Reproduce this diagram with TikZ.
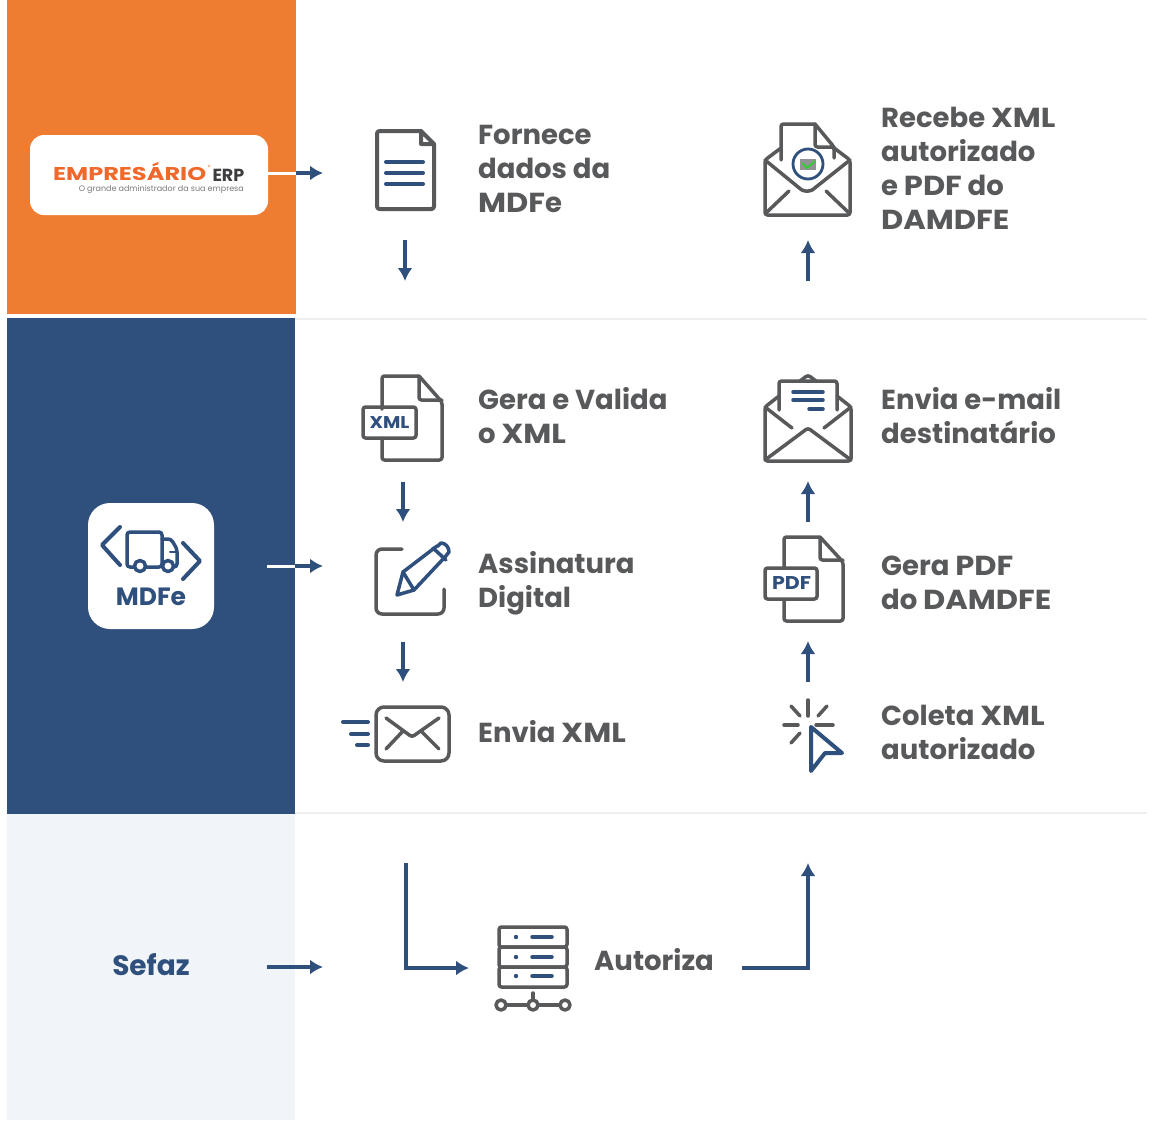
\documentclass[tikz,border=0pt]{standalone}
\usepackage{fontspec}
\setmainfont{Poppins}
\newfontfamily\widecaps[FakeStretch=1.11]{Poppins}
\newfontfamily\logofont[FakeStretch=1.3]{Poppins}
\newcommand{\wc}[1]{{\widecaps\bfseries #1}}
\usetikzlibrary{arrows.meta}
\definecolor{org}{HTML}{EE7D31}
\definecolor{logoorg}{HTML}{F0682A}
\definecolor{navy}{HTML}{2F4F7D}
\definecolor{gry}{HTML}{58595B}
\definecolor{pale}{HTML}{F1F5F9}
\definecolor{sep}{HTML}{EEEFF0}
\tikzset{
 ic/.style={draw=gry,line width=3.5pt,line cap=round,line join=round,fill=none,rounded corners=2.5pt},
 icb/.style={draw=navy,line width=3.5pt,line cap=round,line join=round,fill=none},
 flow/.style={draw=navy,line width=3.5pt,-{Latex[length=13pt,width=15pt]}},
 wl/.style={draw=white,line width=3pt},
 lab/.style={font=\fontsize{27.5}{34}\selectfont\bfseries,text=gry,align=left,anchor=west,inner sep=0pt},
}
\begin{document}
\begin{tikzpicture}[x=1pt,y=-1pt]
\useasboundingbox (0,0) rectangle (1152,1125);
\fill[white] (0,0) rectangle (1152,1125);
% bands
\fill[org] (7,0) rectangle (296,314);
\fill[navy] (7,318) rectangle (295,814);
\fill[pale] (7,814) rectangle (295,1120);
\draw[sep,line width=2pt] (295,319) -- (1147,319);
\draw[sep,line width=2pt] (295,813) -- (1147,813);
% logo
\node[fill=white,rounded corners=14pt,minimum width=238pt,minimum height=80pt,inner sep=0pt] (erp) at (149,175) {};
\node[anchor=base west,inner sep=0pt,text=logoorg,font=\fontsize{18.5}{20}\selectfont] (erpname) at (53,180.5) {\logofont\bfseries EMPRESÁRIO};
\node[anchor=base west,inner sep=0pt,text=logoorg,font=\fontsize{6}{6}\selectfont] (erpreg) at (207.5,169) {®};
\node[anchor=base east,inner sep=0pt,text=gry!70!black,font=\fontsize{17.5}{17}\selectfont\bfseries] (erptag) at (244.5,181) {ERP};
\node[anchor=base east,inner sep=0pt,text=gry!80,font=\fontsize{8}{8}\selectfont] (erpsub) at (244,191) {O grande administrador da sua empresa};
% mdfe badge
\node[fill=white,rounded corners=22pt,minimum width=126pt,minimum height=126pt,inner sep=0pt] (mdfe) at (151,566) {};
\node[inner sep=0pt,text=navy,font=\fontsize{25}{25}\selectfont\bfseries] (mdfet) at (151,596.5) {MDFe};
\draw[icb,line width=4pt] (120,527) -- (102,545) -- (120,565);
\draw[icb,line width=4pt] (183,543) -- (200,561) -- (183,579);
\draw[icb,rounded corners=3pt] (127,567) rectangle (162,532);
\draw[icb,rounded corners=3pt] (162,539) -- (171,539) -- (177,549) -- (177,567) -- (162,567);
\draw[icb,line width=2pt] (170,552) -- (177,552);
\draw[icb,fill=white] (140,566) circle (5.5pt);
\draw[icb,fill=white] (168,566) circle (5.5pt);
% Sefaz
\node[inner sep=0pt,text=navy,font=\fontsize{28}{30}\selectfont\bfseries] (sefaz) at (151,965) {Sefaz};
% left arrows from the bands
\coordinate (a1) at (268,173); \coordinate (a1m) at (296,173); \coordinate (a1e) at (323,173);
\draw[wl] (erp.east |- a1) -- (a1m);
\draw[flow] (a1m) -- (a1e);
\coordinate (a2) at (267,566); \coordinate (a2m) at (295,566); \coordinate (a2e) at (323,566);
\draw[wl] (a2) -- (a2m);
\draw[flow] (a2m) -- (a2e);
\coordinate (a3) at (267,967); \coordinate (a3e) at (323,967);
\draw[flow] (a3) -- (a3e);
% icon anchors
\coordinate (dDoc) at (405,171);
\coordinate (dXml) at (403,418);
\coordinate (dRecv) at (808,171);
\coordinate (dMail) at (808,419);
\coordinate (dPdf) at (808,579);
% doc icon
\draw[ic,line width=4pt] (421,131) -- (377,131) -- (377,209) -- (434,209) -- (434,144);
\draw[draw=gry,line width=4pt,line join=round,line cap=round] (421,131) -- (434,144) -- (421,144) -- cycle;
\draw[icb,line width=4pt] (386,162) -- (423,162) (386,173) -- (423,173) (386,184) -- (423,184);
% xml icon
\draw[ic] (382,409) -- (382,376) -- (419,376) (419,376) -- (442,402) -- (442,460) -- (382,460) -- (382,438);
\draw[ic] (419,376) -- (419,400) -- (442,400);
\draw[ic] (363,407) rectangle (416,438);
\node[inner sep=0pt,text=navy,font=\fontsize{17}{18}\selectfont\bfseries] (xmlt) at (389.5,423) {\wc{XML}};
% sign icon
\draw[ic,rounded corners=6pt] (402,549) -- (376,549) -- (376,614) -- (444,614) -- (444,589);
\draw[icb] (397,595) -- (403,572) -- (437,546) to[out=-40,in=180] (441,543) to[out=0,in=90] (449,552) -- (445,557) -- (414,590) -- cycle;
\draw[icb] (403,572) -- (414,590);
\draw[icb] (433,548) -- (446,560);
% send icon
\draw[ic,rounded corners=8pt] (376,707) rectangle (449,761);
\draw[ic] (386,718) -- (412,737) -- (439,718);
\draw[ic] (386,749) -- (403,731);
\draw[ic] (439,749) -- (421,731);
\draw[icb,line width=4pt] (343,722) -- (368,722) (351,734) -- (368,734) (357,745) -- (368,745);
% recv icon
\draw[ic] (781,160) -- (781,124) -- (815,124) (815,124) -- (834,147) -- (834,158);
\draw[ic] (815,124) -- (815,147) -- (834,147);
\draw[ic] (781,148) -- (765,160) -- (765,215) -- (850,215) -- (850,160) -- (834,148);
\draw[ic] (765,160) -- (803,191) -- (811,191) -- (850,160);
\draw[ic] (767,212) -- (789,191);
\draw[ic] (848,212) -- (826,191);
\fill[gry!65] (800,159) rectangle (816,170);
\draw[green!60!gray,line width=1.8pt] (802,163) -- (807,168) -- (815,161);
\draw[navy,line width=2.8pt] (808,164) circle (15pt);
% mail icon
\draw[ic] (779,410) -- (779,381) -- (837,381) -- (837,410);
\draw[ic] (800,381) -- (808,375) -- (816,381);
\draw[ic] (779,396) -- (765,407) -- (765,461) -- (851,461) -- (851,407) -- (837,396);
\draw[ic] (765,407) -- (792,428);
\draw[ic] (851,407) -- (824,428);
\draw[ic] (765,460) -- (808,428) -- (851,460);
\draw[icb] (793,392) -- (823,392) (793,400) -- (823,400) (809,409) -- (823,409);
% pdf icon
\draw[ic] (784,568) -- (784,537) -- (820,537) (820,537) -- (843,562) -- (843,621) -- (784,621) -- (784,599);
\draw[ic] (820,537) -- (820,560) -- (843,560);
\draw[ic] (765,568) rectangle (817,599);
\node[inner sep=0pt,text=navy,font=\fontsize{18.5}{18}\selectfont\bfseries] (pdft) at (791.5,583) {\wc{PDF}};
% click icon
\draw[ic] (808,700) -- (808,716);
\draw[ic] (791,706) -- (800,716);
\draw[ic] (827,706) -- (818,716);
\draw[ic] (784,725) -- (798,725);
\draw[ic] (816,725) -- (833,725);
\draw[ic] (791,743) -- (800,733);
\draw[icb,line width=4pt] (811,727) -- (842,753) -- (825,753) -- (811,771) -- cycle;
% server icon
\draw[ic] (499,927) rectangle (567,947);
\draw[ic] (499,947) rectangle (567,967);
\draw[ic] (499,967) rectangle (567,987);
\foreach \yy in {937,957,976} {
 \fill[navy] (516,\yy) circle (2.2pt);
 \draw[icb] (532,\yy) -- (552,\yy);
}
\draw[ic,rounded corners=0pt] (501,1005) circle (5pt);
\draw[ic,rounded corners=0pt] (533,1005) circle (5pt);
\draw[ic,rounded corners=0pt] (565,1005) circle (5pt);
\draw[ic] (506,1005) -- (528,1005) (538,1005) -- (560,1005) (533,1000) -- (533,993);
\coordinate (srv) at (469,968);
% labels
\node[lab] (t1) at (478,169) {Fornece\\dados da\\\wc{MDF}e};
\node[lab] (t2) at (478,416) {Gera e Valida\\o \wc{XML}};
\node[lab] (t3) at (478,583) {Assinatura\\Digital};
\node[lab] (t4) at (478,732) {Envia \wc{XML}};
\node[lab] (t5) at (881,168) {Recebe \wc{XML}\\autorizado\\e \wc{PDF} do\\\wc{DAMDFE}};
\node[lab] (t6) at (881,416) {Envia e-mail\\destinatário};
\node[lab] (t7) at (881,583) {Gera \wc{PDF}\\do \wc{DAMDFE}};
\node[lab] (t8) at (881,732) {Coleta \wc{XML}\\autorizado};
\node[lab] (t9) at (594,960) {Autoriza};
% flow arrows
\draw[flow] (dDoc |- 0,240) -- (dDoc |- 0,281);
\draw[flow] (dXml |- 0,482) -- (dXml |- 0,522);
\draw[flow] (dXml |- 0,642) -- (dXml |- 0,682);
\draw[flow] (dRecv |- 0,281) -- (dRecv |- 0,240);
\draw[flow] (dMail |- 0,522) -- (dMail |- 0,481);
\draw[flow] (dPdf |- 0,682) -- (dPdf |- 0,641);
\coordinate (u1) at (406,863); \coordinate (u1b) at (406,968);
\draw[flow] (u1) -- (u1b) -- (srv);
\coordinate (u2) at (742,968); \coordinate (u2b) at (808,968); \coordinate (u2e) at (808,863);
\draw[flow] (u2) -- (u2b) -- (u2e);
\end{tikzpicture}
\end{document}
